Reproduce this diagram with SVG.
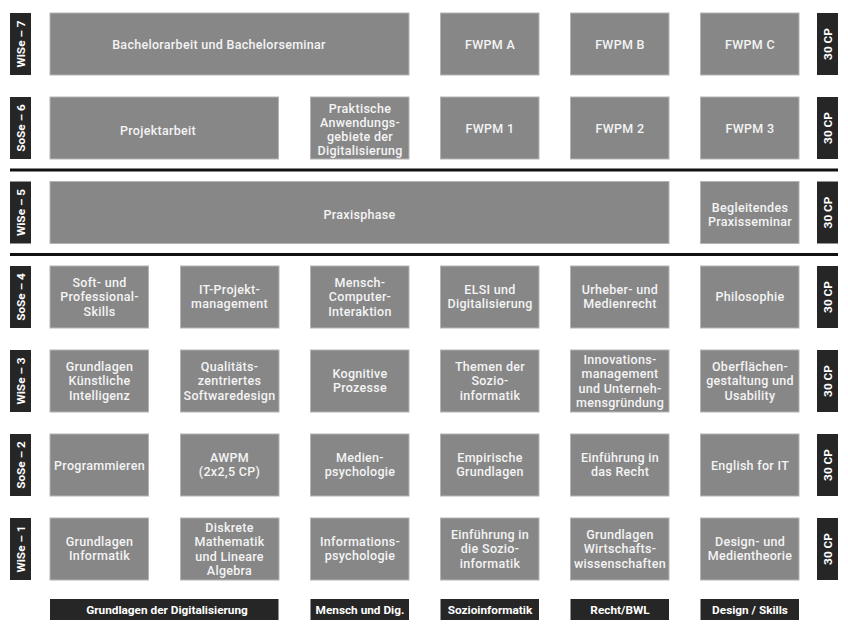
<svg xmlns="http://www.w3.org/2000/svg" width="848" height="633" viewBox="0 0 848 633">
<style>
.box{fill:#878787;stroke:#b4b4b4;stroke-width:1}
.dark{fill:#262626}
.t{font-family:Roboto,"Liberation Sans",sans-serif;font-size:12.5px;font-weight:500;letter-spacing:0.3px;fill:#f4f4f4;text-anchor:middle}
.d{font-family:Roboto,"Liberation Sans",sans-serif;font-size:11.8px;font-weight:700;fill:#ffffff;text-anchor:middle}
.sep{stroke:#111;stroke-width:3}
</style>
<rect width="848" height="633" fill="#ffffff"/>
<g id="connectors">
<line class="sep" x1="10" y1="170" x2="838" y2="170"/>
<line class="sep" x1="10" y1="254.5" x2="838" y2="254.5"/>
</g>
<!-- semester labels -->
<g id="sem7"><rect class="dark" x="10" y="13" width="21" height="62"/><text class="d" transform="translate(24.5,44) rotate(-90)">WiSe – 7</text></g>
<g id="sem6"><rect class="dark" x="10" y="97" width="21" height="62"/><text class="d" transform="translate(24.5,128) rotate(-90)">SoSe – 6</text></g>
<g id="sem5"><rect class="dark" x="10" y="181.5" width="21" height="62"/><text class="d" transform="translate(24.5,212.5) rotate(-90)">WiSe – 5</text></g>
<g id="sem4"><rect class="dark" x="10" y="266" width="21" height="62"/><text class="d" transform="translate(24.5,297) rotate(-90)">SoSe – 4</text></g>
<g id="sem3"><rect class="dark" x="10" y="350" width="21" height="62"/><text class="d" transform="translate(24.5,381) rotate(-90)">WiSe – 3</text></g>
<g id="sem2"><rect class="dark" x="10" y="434" width="21" height="62"/><text class="d" transform="translate(24.5,465) rotate(-90)">SoSe – 2</text></g>
<g id="sem1"><rect class="dark" x="10" y="518" width="21" height="62"/><text class="d" transform="translate(24.5,549) rotate(-90)">WiSe – 1</text></g>
<!-- CP labels -->
<g id="cp7"><rect class="dark" x="817" y="13" width="21" height="62"/><text class="d" transform="translate(831.5,44) rotate(-90)">30 CP</text></g>
<g id="cp6"><rect class="dark" x="817" y="97" width="21" height="62"/><text class="d" transform="translate(831.5,128) rotate(-90)">30 CP</text></g>
<g id="cp5"><rect class="dark" x="817" y="181.5" width="21" height="62"/><text class="d" transform="translate(831.5,212.5) rotate(-90)">30 CP</text></g>
<g id="cp4"><rect class="dark" x="817" y="266" width="21" height="62"/><text class="d" transform="translate(831.5,297) rotate(-90)">30 CP</text></g>
<g id="cp3"><rect class="dark" x="817" y="350" width="21" height="62"/><text class="d" transform="translate(831.5,381) rotate(-90)">30 CP</text></g>
<g id="cp2"><rect class="dark" x="817" y="434" width="21" height="62"/><text class="d" transform="translate(831.5,465) rotate(-90)">30 CP</text></g>
<g id="cp1"><rect class="dark" x="817" y="518" width="21" height="62"/><text class="d" transform="translate(831.5,549) rotate(-90)">30 CP</text></g>
<!-- Row 7 -->
<g id="bachelor"><rect class="box" x="50" y="13" width="359" height="62"/><text class="t" x="219" y="48.5">Bachelorarbeit und Bachelorseminar</text></g>
<g id="fwpmA"><rect class="box" x="440.5" y="13" width="98.5" height="62"/><text class="t" x="490" y="48.5">FWPM A</text></g>
<g id="fwpmB"><rect class="box" x="570.5" y="13" width="98.5" height="62"/><text class="t" x="620" y="48.5">FWPM B</text></g>
<g id="fwpmC"><rect class="box" x="700.5" y="13" width="98.5" height="62"/><text class="t" x="750" y="48.5">FWPM C</text></g>
<!-- Row 6 -->
<g id="projekt"><rect class="box" x="50" y="97" width="228.5" height="62"/><text class="t" x="158" y="134.5">Projektarbeit</text></g>
<g id="praktische"><rect class="box" x="310.5" y="97" width="98.5" height="62"/><text class="t" x="360"><tspan x="360" y="112.5">Praktische</tspan><tspan x="360" y="126.8">Anwendungs-</tspan><tspan x="360" y="141.1">gebiete der</tspan><tspan x="360" y="155.4">Digitalisierung</tspan></text></g>
<g id="fwpm1"><rect class="box" x="440.5" y="97" width="98.5" height="62"/><text class="t" x="490" y="132.5">FWPM 1</text></g>
<g id="fwpm2"><rect class="box" x="570.5" y="97" width="98.5" height="62"/><text class="t" x="620" y="132.5">FWPM 2</text></g>
<g id="fwpm3"><rect class="box" x="700.5" y="97" width="98.5" height="62"/><text class="t" x="750" y="132.5">FWPM 3</text></g>
<!-- Row 5 -->
<g id="praxis"><rect class="box" x="50" y="181.5" width="619" height="62"/><text class="t" x="359.5" y="219">Praxisphase</text></g>
<g id="begleitend"><rect class="box" x="700.5" y="181.5" width="98.5" height="62"/><text class="t" x="750"><tspan x="750" y="212">Begleitendes</tspan><tspan x="750" y="226.3">Praxisseminar</tspan></text></g>
<!-- Row 4 -->
<g id="soft"><rect class="box" x="50" y="266" width="98.5" height="62"/><text class="t" x="99.5"><tspan x="99.5" y="287">Soft- und</tspan><tspan x="99.5" y="301.3">Professional-</tspan><tspan x="99.5" y="315.6">Skills</tspan></text></g>
<g id="itprojekt"><rect class="box" x="180.5" y="266" width="98.5" height="62"/><text class="t" x="229.5"><tspan x="229.5" y="294">IT-Projekt-</tspan><tspan x="229.5" y="308.3">management</tspan></text></g>
<g id="mci"><rect class="box" x="310.5" y="266" width="98.5" height="62"/><text class="t" x="360"><tspan x="360" y="287">Mensch-</tspan><tspan x="360" y="301.3">Computer-</tspan><tspan x="360" y="315.6">Interaktion</tspan></text></g>
<g id="elsi"><rect class="box" x="440.5" y="266" width="98.5" height="62"/><text class="t" x="490"><tspan x="490" y="294">ELSI und</tspan><tspan x="490" y="308.3">Digitalisierung</tspan></text></g>
<g id="urheber"><rect class="box" x="570.5" y="266" width="98.5" height="62"/><text class="t" x="620"><tspan x="620" y="294">Urheber- und</tspan><tspan x="620" y="308.3">Medienrecht</tspan></text></g>
<g id="philo"><rect class="box" x="700.5" y="266" width="98.5" height="62"/><text class="t" x="750" y="301">Philosophie</text></g>
<!-- Row 3 -->
<g id="gki"><rect class="box" x="50" y="350" width="98.5" height="62"/><text class="t" x="99.5"><tspan x="99.5" y="371">Grundlagen</tspan><tspan x="99.5" y="385.3">Künstliche</tspan><tspan x="99.5" y="399.6">Intelligenz</tspan></text></g>
<g id="qual"><rect class="box" x="180.5" y="350" width="98.5" height="62"/><text class="t" x="229.5"><tspan x="229.5" y="371">Qualitäts-</tspan><tspan x="229.5" y="385.3">zentriertes</tspan><tspan x="229.5" y="399.6">Softwaredesign</tspan></text></g>
<g id="kogn"><rect class="box" x="310.5" y="350" width="98.5" height="62"/><text class="t" x="360"><tspan x="360" y="378">Kognitive</tspan><tspan x="360" y="392.3">Prozesse</tspan></text></g>
<g id="themen"><rect class="box" x="440.5" y="350" width="98.5" height="62"/><text class="t" x="490"><tspan x="490" y="371">Themen der</tspan><tspan x="490" y="385.3">Sozio-</tspan><tspan x="490" y="399.6">informatik</tspan></text></g>
<g id="innov"><rect class="box" x="570.5" y="350" width="98.5" height="62"/><text class="t" x="620"><tspan x="620" y="364">Innovations-</tspan><tspan x="620" y="378.3">management</tspan><tspan x="620" y="392.6">und Unterneh-</tspan><tspan x="620" y="406.9">mensgründung</tspan></text></g>
<g id="oberfl"><rect class="box" x="700.5" y="350" width="98.5" height="62"/><text class="t" x="750"><tspan x="750" y="371">Oberflächen-</tspan><tspan x="750" y="385.3">gestaltung und</tspan><tspan x="750" y="399.6">Usability</tspan></text></g>
<!-- Row 2 -->
<g id="prog"><rect class="box" x="50" y="434" width="98.5" height="62"/><text class="t" x="99.5" y="469.5">Programmieren</text></g>
<g id="awpm"><rect class="box" x="180.5" y="434" width="98.5" height="62"/><text class="t" x="229.5"><tspan x="229.5" y="462">AWPM</tspan><tspan x="229.5" y="476.3">(2x2,5 CP)</tspan></text></g>
<g id="medpsy"><rect class="box" x="310.5" y="434" width="98.5" height="62"/><text class="t" x="360"><tspan x="360" y="462">Medien-</tspan><tspan x="360" y="476.3">psychologie</tspan></text></g>
<g id="empir"><rect class="box" x="440.5" y="434" width="98.5" height="62"/><text class="t" x="490"><tspan x="490" y="462">Empirische</tspan><tspan x="490" y="476.3">Grundlagen</tspan></text></g>
<g id="recht"><rect class="box" x="570.5" y="434" width="98.5" height="62"/><text class="t" x="620"><tspan x="620" y="462">Einführung in</tspan><tspan x="620" y="476.3">das Recht</tspan></text></g>
<g id="english"><rect class="box" x="700.5" y="434" width="98.5" height="62"/><text class="t" x="750" y="469.5">English for IT</text></g>
<!-- Row 1 -->
<g id="ginf"><rect class="box" x="50" y="518" width="98.5" height="62"/><text class="t" x="99.5"><tspan x="99.5" y="546">Grundlagen</tspan><tspan x="99.5" y="560.3">Informatik</tspan></text></g>
<g id="diskret"><rect class="box" x="180.5" y="518" width="98.5" height="62"/><text class="t" x="229.5"><tspan x="229.5" y="532">Diskrete</tspan><tspan x="229.5" y="546.3">Mathematik</tspan><tspan x="229.5" y="560.6">und Lineare</tspan><tspan x="229.5" y="574.9">Algebra</tspan></text></g>
<g id="infpsy"><rect class="box" x="310.5" y="518" width="98.5" height="62"/><text class="t" x="360"><tspan x="360" y="546">Informations-</tspan><tspan x="360" y="560.3">psychologie</tspan></text></g>
<g id="einsozio"><rect class="box" x="440.5" y="518" width="98.5" height="62"/><text class="t" x="490"><tspan x="490" y="539">Einführung in</tspan><tspan x="490" y="553.3">die Sozio-</tspan><tspan x="490" y="567.6">informatik</tspan></text></g>
<g id="gwiwi"><rect class="box" x="570.5" y="518" width="98.5" height="62"/><text class="t" x="620"><tspan x="620" y="539">Grundlagen</tspan><tspan x="620" y="553.3">Wirtschafts-</tspan><tspan x="620" y="567.6">wissenschaften</tspan></text></g>
<g id="design"><rect class="box" x="700.5" y="518" width="98.5" height="62"/><text class="t" x="750"><tspan x="750" y="546">Design- und</tspan><tspan x="750" y="560.3">Medientheorie</tspan></text></g>
<!-- Category labels -->
<g id="catGrund"><rect class="dark" x="50" y="599" width="228.5" height="21"/><text class="d" x="167" y="613.5">Grundlagen der Digitalisierung</text></g>
<g id="catMensch"><rect class="dark" x="310.5" y="599" width="98.5" height="21"/><text class="d" x="360" y="613.5">Mensch und Dig.</text></g>
<g id="catSozio"><rect class="dark" x="440.5" y="599" width="98.5" height="21"/><text class="d" x="490" y="613.5">Sozioinformatik</text></g>
<g id="catRecht"><rect class="dark" x="570.5" y="599" width="98.5" height="21"/><text class="d" x="620" y="613.5">Recht/BWL</text></g>
<g id="catDesign"><rect class="dark" x="700.5" y="599" width="98.5" height="21"/><text class="d" x="750" y="613.5">Design / Skills</text></g>
</svg>
